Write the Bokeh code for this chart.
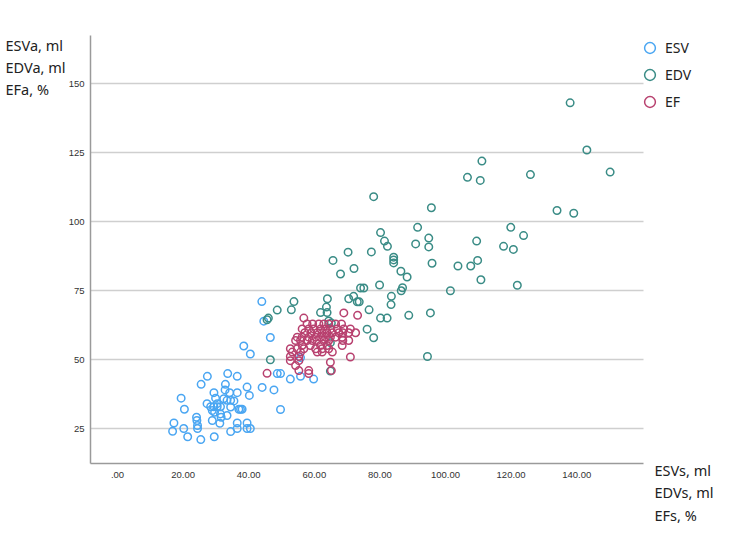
from bokeh.plotting import figure
from bokeh.models import FixedTicker, Label, Legend, LegendItem, Range1d
from bokeh.embed import file_html
from bokeh.resources import INLINE

# ---------------- data ----------------
esv_x = [44.0, 44.6, 46.6, 38.5, 40.5, 48.7, 49.7, 52.7, 55.8, 59.8, 44.1, 47.7, 49.7, 55.8,
         33.6, 36.5, 27.4, 25.5, 32.9, 32.8, 39.5, 36.5, 40.2, 29.4, 29.9, 34.2, 32.4, 33.4,
         34.5, 35.5, 27.3, 30.4, 28.4, 29.4, 30.4, 31.4, 34.5, 37.0, 37.5, 38.0, 28.9, 29.6,
         31.4, 33.4, 31.6, 28.9, 31.2, 19.4, 20.4, 24.1, 24.2, 24.4, 24.4, 17.2, 16.8, 20.2,
         21.4, 25.4, 29.5, 34.5, 36.5, 36.5, 39.5, 39.5, 40.5]
esv_y = [71.1, 64.0, 58.1, 55.0, 52.1, 45.0, 45.0, 43.0, 44.0, 43.0, 40.0, 39.1, 32.0, 50.8,
         45.0, 44.0, 44.0, 41.1, 41.1, 39.1, 40.1, 38.1, 37.1, 38.1, 36.1, 38.1, 35.9, 35.3,
         35.3, 35.1, 34.1, 34.1, 33.0, 33.0, 33.0, 33.0, 32.9, 32.1, 32.1, 32.1, 31.6, 31.0,
         30.4, 29.8, 29.2, 28.0, 27.0, 36.1, 32.1, 29.2, 28.0, 26.2, 25.1, 27.1, 24.1, 25.1,
         22.1, 21.1, 22.1, 24.0, 27.1, 25.1, 27.1, 25.1, 25.1]

edv_x = [138.0, 143.1, 111.1, 106.7, 110.6, 125.9, 150.2, 134.0, 139.1, 119.9, 123.8, 109.5,
         117.7, 120.7, 107.7, 109.8, 110.8, 121.9, 78.1, 95.7, 91.5, 80.2, 81.4, 82.3, 94.9,
         90.9, 94.9, 77.4, 70.3, 84.2, 84.2, 84.2, 95.9, 103.8, 72.1, 86.4, 88.3, 65.7, 68.0,
         79.9, 74.1, 75.1, 86.9, 86.5, 101.5, 72.0, 73.1, 73.7, 83.5, 83.4, 76.7, 88.8, 95.4,
         80.2, 82.2, 76.1, 78.1, 53.8, 53.0, 64.0, 70.5, 63.7, 61.9, 63.9, 48.7, 46.0, 45.6,
         64.4, 65.2, 64.9, 46.6, 64.9, 94.5]
edv_y = [143.1, 126.0, 122.0, 116.1, 115.0, 117.1, 118.0, 104.1, 103.1, 98.0, 95.0, 93.0,
         91.1, 90.0, 84.0, 86.0, 79.0, 77.0, 109.1, 105.1, 98.0, 96.1, 93.0, 91.1, 94.1,
         92.0, 90.9, 89.1, 89.0, 87.2, 86.2, 85.1, 85.0, 84.0, 83.1, 82.1, 80.0, 86.0, 81.1,
         77.1, 76.0, 76.0, 76.1, 75.0, 75.0, 73.0, 71.0, 71.0, 73.0, 70.0, 68.1, 66.1, 67.0,
         65.1, 65.1, 61.1, 58.0, 71.1, 68.1, 72.1, 72.1, 69.1, 67.1, 67.1, 68.0, 65.1, 64.5,
         64.1, 63.3, 56.2, 50.0, 45.9, 51.2]

ef_x = [69.0, 73.2, 56.8, 45.6, 64.9, 71.0,
        57.8, 59.5, 61.4, 62.9, 64.4, 66.5, 68.3,
        56.3, 58.3, 59.8, 61.9, 63.4, 64.9, 67.0, 69.0, 71.0,
        57.1, 59.1, 60.9, 62.4, 63.9, 65.5, 67.5, 68.7, 70.5, 72.6,
        54.8, 56.3, 58.3, 60.4, 61.9, 63.4, 64.9, 66.5, 68.5,
        54.3, 55.8, 57.8, 59.4, 60.9, 62.9, 64.4, 68.7, 70.5,
        56.3, 58.8, 61.9, 63.9, 68.5,
        52.7, 54.8, 56.8, 60.4, 62.4, 64.4,
        53.3, 55.8, 60.9, 62.4, 65.5,
        52.7, 55.3, 52.7, 55.3, 54.3,
        55.3, 58.3, 65.2, 58.3]
ef_y = [67.0, 66.1, 65.1, 45.1, 49.1, 51.0,
        63.0, 63.0, 63.0, 63.0, 63.0, 63.0, 63.0,
        61.2, 61.2, 61.2, 61.2, 61.2, 61.2, 61.2, 61.2, 61.2,
        59.8, 59.8, 59.8, 59.8, 59.8, 59.8, 59.8, 59.8, 59.8, 59.8,
        58.2, 58.2, 58.2, 58.2, 58.2, 58.2, 58.2, 58.2, 58.2,
        57.0, 57.0, 57.0, 57.0, 57.0, 57.0, 57.0, 57.0, 57.0,
        55.2, 55.2, 55.2, 55.2, 55.2,
        54.0, 54.0, 54.0, 54.0, 54.0, 54.0,
        52.8, 52.8, 52.8, 52.8, 52.8,
        51.2, 51.2, 49.7, 49.7, 47.9,
        46.1, 46.1, 46.1, 45.0]

series_names = ["ESV", "EDV", "EF"]
series_colors = ["#4aa6f2", "#3a8c86", "#b8416f"]

x_ticks = [0, 20, 40, 60, 80, 100, 120, 140]
x_tick_labels = [".00", "20.00", "40.00", "60.00", "80.00", "100.00", "120.00", "140.00"]
y_ticks = [25, 50, 75, 100, 125, 150]
y_tick_labels = ["25", "50", "75", "100", "125", "150"]

y_title = ["ESVa, ml", "EDVa, ml", "EFa, %"]
x_title = ["ESVs, ml", "EDVs, ml", "EFs, %"]

# ---------------- layout (pixel geometry of the canvas) ----------------
W, H = 750, 542
PX_X0, PX_PER_X = 117.0, 3.28      # canvas x of value 0, pixels per x unit
PY_Y150, PX_PER_Y = 83.3, 2.76     # canvas y of value 150, pixels per y unit
AX_L, AX_R, AX_T, AX_B = 90, 643, 35, 463   # axes box on the canvas


def vx(px):
    return (px - PX_X0) / PX_PER_X


def vy(py):
    return 150 - (py - PY_Y150) / PX_PER_Y


p = figure(width=W, height=H, x_range=Range1d(vx(0), vx(W)), y_range=Range1d(vy(H), vy(0)),
           output_backend="svg", toolbar_location=None,
           min_border=0, min_border_left=0, min_border_right=0,
           min_border_top=0, min_border_bottom=0)
p.outline_line_color = None
p.background_fill_color = "white"
p.border_fill_color = "white"

xa, ya = p.xaxis[0], p.yaxis[0]
xa.fixed_location = vy(AX_B)
xa.bounds = (vx(AX_L), vx(AX_R))
ya.fixed_location = vx(AX_L)
ya.bounds = (vy(AX_B), vy(AX_T))
for ax in (xa, ya):
    ax.axis_line_color = "#9a9a9a"
    ax.axis_line_width = 1.5
    ax.major_tick_line_color = None
    ax.minor_tick_line_color = None
    ax.major_tick_out = 0
    ax.major_tick_in = 0
    ax.minor_tick_out = 0
    ax.minor_tick_in = 0
    ax.major_label_text_font = "Liberation Sans"
    ax.major_label_text_font_size = "9.5px"
    ax.major_label_text_color = "#333333"

xa.ticker = FixedTicker(ticks=x_ticks)
xa.major_label_overrides = dict(zip(x_ticks, x_tick_labels))
xa.major_label_standoff = 8
ya.ticker = FixedTicker(ticks=y_ticks)
ya.major_label_overrides = dict(zip(y_ticks, y_tick_labels))
ya.major_label_standoff = 6

p.xgrid.grid_line_color = None
yg = p.ygrid[0]
yg.ticker = FixedTicker(ticks=y_ticks)
try:
    yg.cross_bounds = (vx(AX_L), vx(AX_R))
    yg.grid_line_color = "#cfcfcf"
    yg.grid_line_width = 1.5
except Exception:
    yg.grid_line_color = None
    p.segment(x0=[vx(AX_L)] * len(y_ticks), x1=[vx(AX_R)] * len(y_ticks),
              y0=y_ticks, y1=y_ticks, line_color="#cfcfcf", line_width=1.5)

renderers = []
for xs, ys, c in zip([esv_x, edv_x, ef_x], [esv_y, edv_y, ef_y], series_colors):
    r = p.scatter(xs, ys, marker="circle", size=7.5, fill_color=None,
                  line_color=c, line_width=1.5)
    renderers.append(r)

legend = Legend(items=[LegendItem(label=n, renderers=[r]) for n, r in zip(series_names, renderers)],
                location=(636, H - 115), orientation="vertical",
                glyph_width=27, glyph_height=27, label_height=27, spacing=0,
                padding=0, margin=0, label_standoff=2,
                border_line_color=None, background_fill_alpha=0,
                label_text_font="Noto Sans", label_text_font_size="14px",
                label_text_color="#222222")
p.add_layout(legend)

for i, t in enumerate(y_title):
    p.add_layout(Label(x=vx(5), y=vy(44 + 22 * i), text=t, text_baseline="middle",
                       text_font="Noto Sans", text_font_size="14.5px", text_color="#222222"))
for i, t in enumerate(x_title):
    p.add_layout(Label(x=vx(654), y=vy(469 + 22.5 * i), text=t, text_baseline="middle",
                       text_font="Noto Sans", text_font_size="14.5px", text_color="#222222"))

open("out.html", "w").write(file_html(p, INLINE))
